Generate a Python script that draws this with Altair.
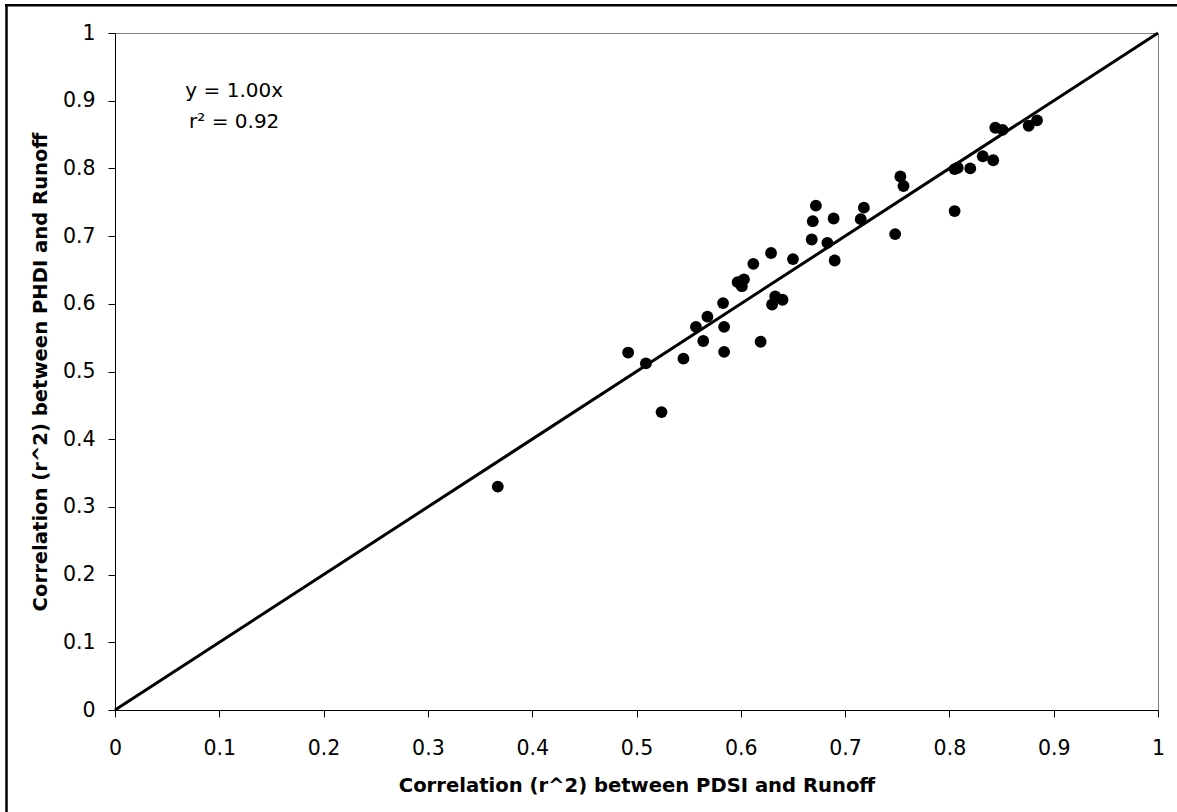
import altair as alt
import pandas as pd

# x: correlation (r^2) between PDSI and runoff; y: between PHDI and runoff
pdsi = [0.367, 0.492, 0.509, 0.524, 0.545, 0.557, 0.564, 0.568, 0.583, 0.584,
        0.584, 0.597, 0.601, 0.603, 0.612, 0.619, 0.629, 0.630, 0.633, 0.640,
        0.650, 0.668, 0.669, 0.672, 0.683, 0.689, 0.690, 0.715, 0.718, 0.748,
        0.753, 0.756, 0.805, 0.805, 0.808, 0.820, 0.832, 0.842, 0.844, 0.851,
        0.876, 0.884]
phdi = [0.330, 0.528, 0.512, 0.440, 0.519, 0.566, 0.545, 0.581, 0.601, 0.566,
        0.529, 0.632, 0.626, 0.636, 0.659, 0.544, 0.675, 0.599, 0.611, 0.606,
        0.666, 0.695, 0.722, 0.745, 0.690, 0.726, 0.664, 0.725, 0.742, 0.703,
        0.788, 0.774, 0.737, 0.799, 0.801, 0.800, 0.818, 0.812, 0.860, 0.857,
        0.863, 0.871]

fit_x = [0.0, 1.0]
fit_slope = 1.00
fit_y = [fit_slope * v for v in fit_x]

tick_values = [0, 0.1, 0.2, 0.3, 0.4, 0.5, 0.6, 0.7, 0.8, 0.9, 1]

eq_text = ["y = 1.00x", "r\u00b2 = 0.92"]
eq_x = [0.1143, 0.1143]
eq_y = [0.906, 0.859]

x_title = "Correlation (r^2) between PDSI and Runoff"
y_title = "Correlation (r^2) between PHDI and Runoff"

FONT = "DejaVu Sans"

pts = pd.DataFrame({"pdsi": pdsi, "phdi": phdi})
fit = pd.DataFrame({"pdsi": fit_x, "phdi": fit_y})
eq = pd.DataFrame({"pdsi": eq_x, "phdi": eq_y, "t": eq_text})
one = pd.DataFrame({"k": [0]})

xs = alt.Scale(domain=[0, 1], nice=False)
ys = alt.Scale(domain=[0, 1], nice=False)

xaxis = alt.Axis(values=tick_values, format="~g", title=x_title,
                 labelPadding=21, labelFlush=False, labelOverlap=False,
                 titleY=81.4, titleBaseline="alphabetic")
yaxis = alt.Axis(values=tick_values, format="~g", title=y_title,
                 labelPadding=13, labelFlush=False, labelOverlap=False,
                 titleX=-68.5, titleY=338.5, titleAngle=270,
                 titleBaseline="alphabetic", titleAlign="center")

line = alt.Chart(fit).mark_line(color="black", strokeWidth=3).encode(
    x=alt.X("pdsi:Q", scale=xs, axis=xaxis),
    y=alt.Y("phdi:Q", scale=ys, axis=yaxis),
)

points = alt.Chart(pts).mark_circle(color="black", opacity=1, size=140).encode(
    x=alt.X("pdsi:Q", scale=xs),
    y=alt.Y("phdi:Q", scale=ys),
)

labels = alt.Chart(eq).mark_text(
    font=FONT, fontSize=20, color="black", align="center", baseline="alphabetic"
).encode(
    x=alt.X("pdsi:Q", scale=xs),
    y=alt.Y("phdi:Q", scale=ys),
    text="t:N",
)

frame_top = alt.Chart(one).mark_rule(color="black", strokeWidth=2.5).encode(
    x=alt.value(-110), x2=alt.value(1062), y=alt.value(-27.7)
)
frame_left = alt.Chart(one).mark_rule(color="black", strokeWidth=2.5).encode(
    x=alt.value(-108.5), y=alt.value(-29), y2=alt.value(779)
)

chart = alt.layer(line, points, labels, frame_top, frame_left).properties(
    width=1043,
    height=677,
    padding={"left": 115, "top": 33, "right": 19, "bottom": 102},
    autosize=alt.AutoSizeParams(type="none"),
    background="white",
).configure_view(
    stroke="#808080", strokeWidth=1
).configure_axis(
    grid=False,
    domainColor="black", domainWidth=1,
    tickColor="black", tickWidth=1, tickSize=7,
    labelColor="black", labelFont=FONT, labelFontSize=20.5,
    titleColor="black", titleFont=FONT, titleFontSize=19.6, titleFontWeight="bold",
)

chart.save("out.html", embed_options={"renderer": "svg", "actions": False})
